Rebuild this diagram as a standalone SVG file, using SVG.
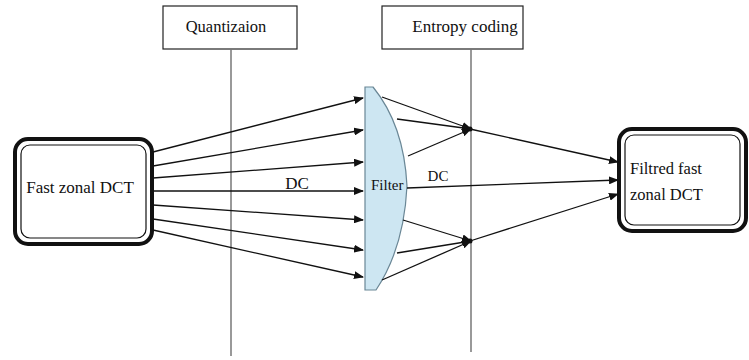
<svg xmlns="http://www.w3.org/2000/svg" width="749" height="360" viewBox="0 0 749 360" font-family="'Liberation Serif', 'DejaVu Serif', serif" font-size="16.5">
<style>
text{font-family:'Liberation Serif','DejaVu Serif',serif;fill:#111}
.box{fill:#fff;stroke:#222;stroke-width:1.2}
.vl{stroke:#777;stroke-width:1.5;fill:none}
.outer{fill:#fff;stroke:#111;stroke-width:4}
.inner{fill:none;stroke:#111;stroke-width:1.2}
.c{stroke:#111;stroke-width:1.3;fill:none}
</style>
<defs>
<marker id="ah" markerWidth="10" markerHeight="8" refX="9" refY="4" orient="auto" markerUnits="userSpaceOnUse">
<path d="M0,0 L10,4 L0,8 Z" fill="#111"/>
</marker>
</defs>
<g id="quant">
<rect class="box" x="163" y="6" width="134" height="43"/>
<text x="226" y="32" text-anchor="middle">Quantizaion</text>
</g>
<g id="entropy">
<rect class="box" x="382" y="6" width="141" height="43"/>
<text x="465" y="32" text-anchor="middle" font-size="17">Entropy coding</text>
</g>
<g id="src">
<rect class="outer" x="15" y="139" width="137" height="105" rx="13"/>
<rect class="inner" x="21" y="145" width="125" height="93" rx="9"/>
<text x="80" y="193" text-anchor="middle" font-size="17">Fast zonal DCT</text>
</g>
<g id="dst">
<rect class="outer" x="619" y="129" width="127" height="102" rx="13"/>
<rect class="inner" x="625" y="135" width="115" height="90" rx="9"/>
<text x="630" y="174">Filtred fast</text>
<text x="630" y="200">zonal DCT</text>
</g>
<g id="filter">
<path d="M365,87 L373,87 Q404,125 407,186 Q404,248 376,290 L365,290 Z" fill="#cde6f2" stroke="#6a8796" stroke-width="1.2"/>
<text x="371" y="190" font-size="15">Filter</text>
</g>
<g id="connectors">
<line class="vl" x1="231" y1="49" x2="231" y2="356"/>
<line class="vl" x1="471" y1="49" x2="471" y2="352"/>
<line class="c" x1="153" y1="152" x2="363" y2="98" marker-end="url(#ah)"/>
<line class="c" x1="153" y1="166" x2="363" y2="130" marker-end="url(#ah)"/>
<line class="c" x1="153" y1="178" x2="363" y2="162" marker-end="url(#ah)"/>
<line class="c" x1="153" y1="191" x2="363" y2="191" marker-end="url(#ah)"/>
<line class="c" x1="153" y1="205" x2="363" y2="220" marker-end="url(#ah)"/>
<line class="c" x1="153" y1="219" x2="363" y2="250" marker-end="url(#ah)"/>
<line class="c" x1="153" y1="230" x2="363" y2="277" marker-end="url(#ah)"/>
<text x="297" y="189" text-anchor="middle" font-size="17">DC</text>
<line class="c" x1="382" y1="97" x2="471" y2="129" marker-end="url(#ah)"/>
<line class="c" x1="397" y1="119" x2="471" y2="129" marker-end="url(#ah)"/>
<line class="c" x1="408" y1="156" x2="471" y2="129" marker-end="url(#ah)"/>
<line class="c" x1="403" y1="220" x2="471" y2="241" marker-end="url(#ah)"/>
<line class="c" x1="397" y1="253" x2="471" y2="241" marker-end="url(#ah)"/>
<line class="c" x1="382" y1="280" x2="471" y2="241" marker-end="url(#ah)"/>
<circle cx="470" cy="129" r="2.5" fill="#111"/>
<circle cx="470" cy="241" r="2.5" fill="#111"/>
<line class="c" x1="470" y1="129" x2="618" y2="162" marker-end="url(#ah)"/>
<line class="c" x1="407" y1="188" x2="618" y2="180" marker-end="url(#ah)"/>
<line class="c" x1="470" y1="241" x2="618" y2="194" marker-end="url(#ah)"/>
<text x="438" y="181" text-anchor="middle" font-size="15">DC</text>
</g>
</svg>
